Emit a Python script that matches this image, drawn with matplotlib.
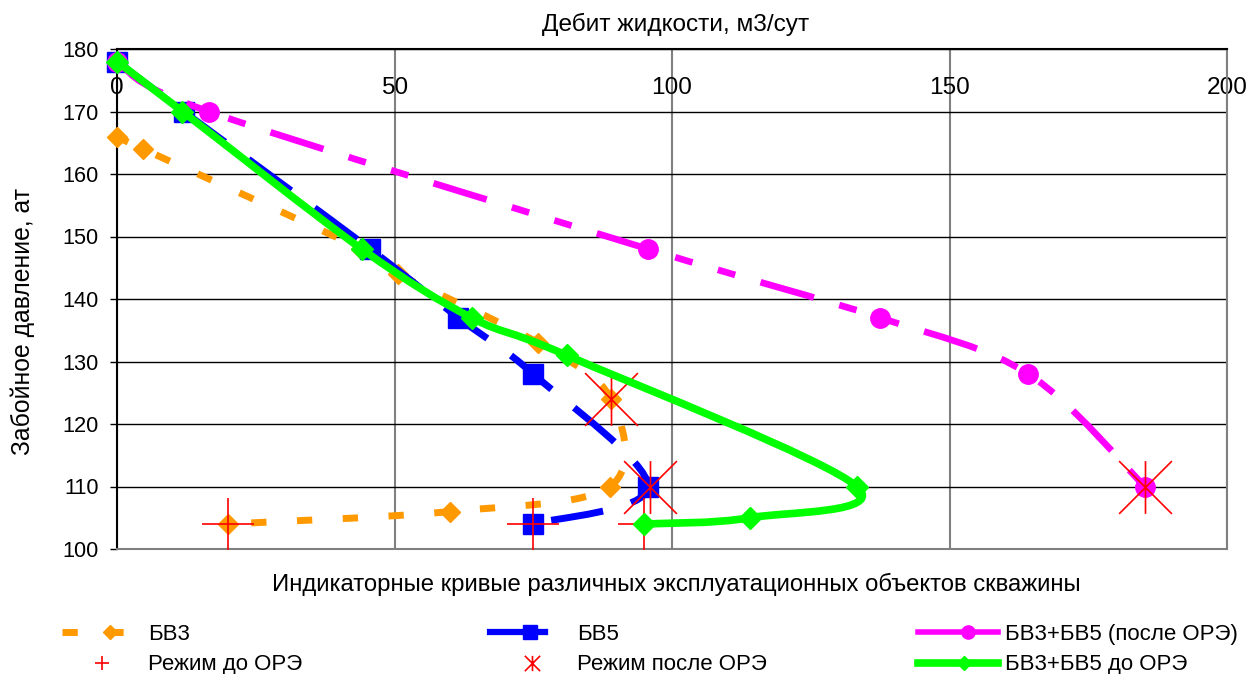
import numpy as np
import matplotlib
matplotlib.use('Agg')
import matplotlib.pyplot as plt
from matplotlib.path import Path
from matplotlib.patches import PathPatch
from matplotlib.lines import Line2D
from matplotlib.legend_handler import HandlerLine2D

plt.rcParams['font.family'] = ['Liberation Sans', 'DejaVu Sans']
plt.rcParams['lines.scale_dashes'] = False

# дебит жидкости (м3/сут) и забойное давление (ат)
bv3_q = [0, 4.7, 44, 50.6, 75.8, 89, 88.8, 60, 20]
bv3_p = [166, 164, 148, 144, 133, 124, 110, 106, 104]
bv5_q = [0, 12, 45.6, 61.5, 75, 95.7, 75]
bv5_p = [178, 170, 148, 137, 128, 110, 104]
after_q = [0, 16.5, 95.7, 137.5, 164.2, 185.2]
after_p = [178, 170, 148, 137, 128, 110]
before_q = [0, 11.8, 44.1, 63.9, 81, 133.3, 114, 95]
before_p = [178, 170, 148, 137, 131, 110, 105, 104]
mode_before_q = [20, 75, 95]
mode_before_p = [104, 104, 104]
mode_after_q = [89, 96, 185.2]
mode_after_p = [124, 110, 110]

x_ticks = [0, 50, 100, 150, 200]
y_ticks = [100, 110, 120, 130, 140, 150, 160, 170, 180]

ORANGE = '#ff9900'
BLUE = '#0000ff'
MAGENTA = '#ff00ff'
GREEN = '#00ff00'
RED = '#ff0000'

asterisk = Path([(0, -1), (0, 1), (-1, -1), (1, 1), (-1, 1), (1, -1)],
                [Path.MOVETO, Path.LINETO, Path.MOVETO, Path.LINETO,
                 Path.MOVETO, Path.LINETO])


def smooth_path(x, y):
    # сглаженная линия как в Excel (Catmull-Rom -> Bezier)
    pts = np.column_stack([x, y]).astype(float)
    n = len(pts)
    verts = [pts[0]]
    codes = [Path.MOVETO]
    for i in range(n - 1):
        p0 = pts[i - 1] if i > 0 else pts[i]
        p1 = pts[i]
        p2 = pts[i + 1]
        p3 = pts[i + 2] if i + 2 < n else pts[i + 1]
        verts += [p1 + (p2 - p0) / 6, p2 - (p3 - p1) / 6, p2]
        codes += [Path.CURVE4] * 3
    return Path(verts, codes)


def draw_series(ax, x, y, color, lw, dashes, marker, ms, z):
    style = '-' if dashes is None else (0, dashes)
    ax.add_patch(PathPatch(smooth_path(x, y), fill=False, edgecolor=color,
                           lw=lw, linestyle=style, capstyle='butt',
                           joinstyle='round', zorder=z))
    ax.plot(x, y, linestyle='none', marker=marker, ms=ms, color=color,
            mec=color, zorder=z + 0.1, clip_on=False)


class HandlerMarkerAt(HandlerLine2D):
    # маркер в легенде не по центру, а ближе к правому краю
    def __init__(self, frac, **kw):
        super().__init__(**kw)
        self.frac = frac

    def create_artists(self, legend, orig_handle, xdescent, ydescent,
                       width, height, fontsize, trans):
        x0 = -xdescent
        x1 = -xdescent + width
        xm = x0 + self.frac * width
        yc = (height - ydescent) / 2
        line = Line2D([x0, xm, x1], [yc, yc, yc])
        self.update_prop(line, orig_handle, legend)
        line.set_markevery([1])
        line.set_transform(trans)
        return [line]


fig = plt.figure(figsize=(12.52, 6.74), dpi=100)
ax = fig.add_axes([117 / 1252, 1 - 549 / 674, 1110 / 1252, 500 / 674])

draw_series(ax, bv3_q, bv3_p, ORANGE, 5, (11, 22), 'D', 10, 3)
draw_series(ax, bv5_q, bv5_p, BLUE, 5, (38, 21), 's', 14, 4)
draw_series(ax, after_q, after_p, MAGENTA, 4.8, (40, 19, 13, 19, 13, 19), 'o', 14, 5)
ax.plot(mode_before_q, mode_before_p, linestyle='none', marker='+', ms=38,
        mew=1.2, color=RED, zorder=6, clip_on=False)
ax.plot(mode_after_q, mode_after_p, linestyle='none', marker=asterisk, ms=38,
        mew=1.2, color=RED, mfc='none', zorder=7, clip_on=False)
draw_series(ax, before_q, before_p, GREEN, 5.5, None, 'D', 11.5, 8)

ax.set_xlim(0, 200)
ax.set_ylim(100, 180)
ax.set_xticks(x_ticks)
ax.set_yticks(y_ticks)
ax.grid(axis='y', color='black', lw=1)
ax.grid(axis='x', color='#808080', lw=1.5)
ax.set_axisbelow(True)
for side in ['top', 'left']:
    ax.spines[side].set_color('black')
    ax.spines[side].set_linewidth(1.5)
for side in ['bottom', 'right']:
    ax.spines[side].set_color('#808080')
    ax.spines[side].set_linewidth(1.5)

ax.tick_params(axis='y', direction='out', length=5, width=1, pad=8, labelsize=15.7)
ax.tick_params(axis='x', bottom=False, labelbottom=False, top=True,
               labeltop=True, length=0, pad=-36, labelsize=17.6)

fig.text(676 / 1252, 1 - 31 / 674, 'Дебит жидкости, м3/сут', ha='center',
         va='baseline', fontsize=17.6)
fig.text(23 / 1252, 1 - 321 / 674, 'Забойное давление, ат', ha='center',
         va='center', rotation=90, fontsize=17.8)
fig.text(676 / 1252, 1 - 591 / 674,
         'Индикаторные кривые различных эксплуатационных объектов скважины',
         ha='center', va='baseline', fontsize=17.2)

# легенда в три колонки
h_bv3 = Line2D([], [], color=ORANGE, lw=5, dashes=(11, 22), marker='D', ms=7.5)
h_bv5 = Line2D([], [], color=BLUE, lw=4.5, marker='s', ms=9.5)
h_after = Line2D([], [], color=MAGENTA, lw=4, marker='o', ms=9.5)
h_mb = Line2D([], [], color=RED, linestyle='none', marker='+', ms=10, mew=1.2)
h_ma = Line2D([], [], color=RED, linestyle='none', marker=asterisk, ms=11,
              mew=1.2, mfc='none')
h_before = Line2D([], [], color=GREEN, lw=5.5, marker='D', ms=7)

handler_map = {
    h_bv3: HandlerMarkerAt(0.7),
    h_mb: HandlerMarkerAt(0.59),
    h_bv5: HandlerMarkerAt(0.73),
    h_ma: HandlerMarkerAt(0.76),
    h_after: HandlerMarkerAt(0.62),
    h_before: HandlerMarkerAt(0.57),
}

legend_cols = [
    ([h_bv3, h_mb], ['БВ3', 'Режим до ОРЭ'], 62, 3.06, 0.81),
    ([h_bv5, h_ma], ['БВ5', 'Режим после ОРЭ'], 490, 2.48, 1.44),
    ([h_after, h_before], ['БВ3+БВ5 (после ОРЭ)', 'БВ3+БВ5 до ОРЭ'], 918, 3.6, 0.3),
]
for handles, labels, x0, hl, pad in legend_cols:
    fig.legend(handles, labels, loc='upper left',
               bbox_to_anchor=(x0 / 1252, 1 - 624 / 674), frameon=False,
               fontsize=16, handlelength=hl, handletextpad=pad,
               borderpad=0, borderaxespad=0, labelspacing=0.42,
               numpoints=1, handler_map=handler_map)

fig.savefig('out.png', dpi=100)
